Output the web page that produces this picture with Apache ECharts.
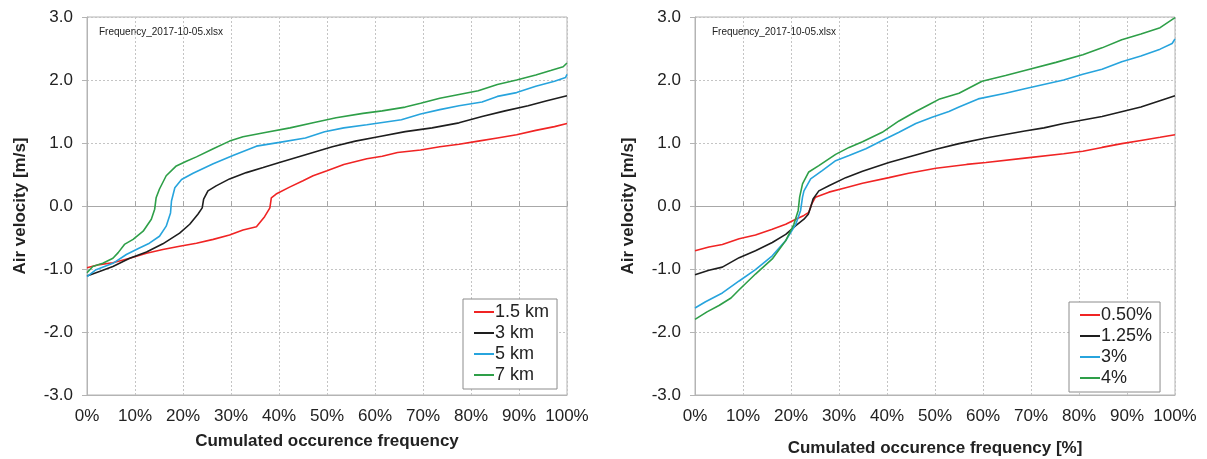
<!DOCTYPE html>
<html>
<head>
<meta charset="utf-8">
<script src="https://cdn.jsdelivr.net/npm/echarts@6/dist/echarts.min.js"></script>
<style>
  html, body { margin: 0; padding: 0; background: #fff; }
  #chart { width: 1207px; height: 459px; }
</style>
</head>
<body>
<div id="chart"></div>
<script>
// [cumulated frequency %, air velocity m/s]
const left15km = [[0,-0.98],[2.6,-0.93],[5.4,-0.90],[8.9,-0.83],[12.4,-0.75],[15.8,-0.69],[19.3,-0.64],[22.8,-0.59],[26.3,-0.53],[29.7,-0.46],[32.5,-0.38],[35.3,-0.33],[37,-0.17],[38.1,-0.03],[38.4,0.13],[39.4,0.19],[42.2,0.30],[45,0.40],[47.1,0.48],[50,0.56],[53.5,0.66],[58.3,0.75],[61.5,0.79],[64.7,0.85],[69.5,0.89],[73.5,0.94],[77.5,0.98],[81.5,1.03],[85.5,1.08],[89.5,1.13],[93.5,1.20],[97.4,1.26],[100,1.31]];
const left3km = [[0,-1.11],[2.6,-1.04],[5.4,-0.96],[8.9,-0.83],[12.4,-0.73],[15.8,-0.60],[19.3,-0.43],[21.4,-0.29],[23.1,-0.13],[24,-0.03],[24.3,0.11],[25.2,0.24],[26.9,0.32],[29.7,0.43],[33.2,0.53],[36.7,0.61],[40.1,0.69],[43.6,0.77],[47.1,0.85],[51.1,0.94],[55.9,1.03],[60.7,1.10],[66.3,1.18],[71.9,1.24],[77.5,1.32],[82.3,1.42],[87.1,1.51],[91.9,1.59],[95.8,1.67],[100,1.75]];
const left5km = [[0,-1.12],[1.9,-1.01],[5.4,-0.91],[8.2,-0.77],[10.6,-0.68],[13,-0.59],[15.1,-0.48],[16.5,-0.32],[17.4,-0.11],[17.6,0.08],[18.3,0.29],[19.7,0.42],[22.1,0.52],[26.3,0.67],[30.4,0.80],[35.3,0.95],[40.1,1.01],[45.5,1.08],[49.5,1.18],[53.5,1.24],[58.3,1.29],[65.5,1.37],[69.5,1.46],[73.5,1.53],[77.5,1.59],[82.3,1.65],[85.5,1.74],[89.5,1.80],[93.5,1.90],[97.4,1.98],[99.7,2.04],[100,2.09]];
const left7km = [[0,-1.06],[1.2,-0.96],[3.3,-0.91],[5.4,-0.83],[6.5,-0.74],[7.8,-0.61],[9.6,-0.53],[11.7,-0.40],[13.4,-0.21],[14.1,-0.05],[14.4,0.13],[15.1,0.27],[16.5,0.48],[18.5,0.63],[20.7,0.71],[22.8,0.78],[26.3,0.91],[29.7,1.03],[32.5,1.10],[37.4,1.17],[42.3,1.24],[47.1,1.32],[51.9,1.40],[57.5,1.47],[61.5,1.51],[66.3,1.57],[69.5,1.63],[73.5,1.71],[77.5,1.77],[81.5,1.83],[85.5,1.93],[89.5,2.00],[93.5,2.08],[96.6,2.15],[99.2,2.21],[100,2.27]];

const right050 = [[0,-0.71],[2.9,-0.65],[5.7,-0.61],[9.2,-0.52],[12.6,-0.46],[16.1,-0.37],[18.9,-0.29],[21,-0.21],[22.7,-0.15],[23.7,-0.10],[24.3,0.03],[25.1,0.14],[27.9,0.22],[31.4,0.29],[34.9,0.36],[40.4,0.45],[44.5,0.52],[50.2,0.60],[56.6,0.66],[60.6,0.69],[68.7,0.76],[76.8,0.83],[80.8,0.87],[84.8,0.93],[88.9,0.99],[92.9,1.04],[96.9,1.09],[100,1.13]];
const right125 = [[0,-1.09],[2.9,-1.02],[5.7,-0.97],[9.2,-0.82],[12.6,-0.71],[16.1,-0.58],[18.9,-0.45],[21,-0.31],[22.7,-0.21],[23.6,-0.13],[24.1,-0.02],[24.6,0.11],[25.8,0.24],[27.9,0.32],[31.4,0.45],[34.9,0.55],[40.4,0.69],[46,0.81],[50.2,0.90],[55,0.99],[60.6,1.08],[68.7,1.19],[72.7,1.24],[76.8,1.31],[84.8,1.42],[92.9,1.57],[100,1.75]];
const right3 = [[0,-1.62],[2.2,-1.52],[5.7,-1.38],[9.2,-1.19],[12.6,-1.01],[16.1,-0.79],[18.9,-0.55],[21,-0.29],[22,-0.07],[22.4,0.14],[22.7,0.24],[24.1,0.43],[26.5,0.56],[29.3,0.72],[32.1,0.80],[35.6,0.91],[39,1.04],[42.5,1.17],[46,1.31],[49.4,1.41],[52.9,1.50],[55,1.57],[59,1.70],[64.7,1.79],[68.7,1.86],[76.8,2.00],[80.8,2.09],[84.8,2.17],[88.9,2.29],[92.9,2.38],[96.9,2.49],[99.4,2.58],[100,2.65]];
const right4 = [[0,-1.80],[2.5,-1.68],[5,-1.58],[7.5,-1.46],[9.2,-1.33],[12.6,-1.08],[16.1,-0.84],[18.9,-0.55],[20.6,-0.29],[21.5,-0.07],[21.8,0.14],[22.4,0.35],[23.7,0.54],[25.8,0.64],[29.3,0.82],[32.1,0.93],[34.9,1.02],[39,1.17],[42.5,1.35],[46,1.50],[48.5,1.60],[51,1.70],[55,1.79],[59.8,1.98],[64.7,2.07],[68.7,2.15],[75.2,2.28],[80.8,2.40],[84.8,2.51],[88.9,2.64],[92.9,2.73],[96.9,2.83],[100,2.99]];

const leftNames = ['1.5 km', '3 km', '5 km', '7 km'];
const rightNames = ['0.50%', '1.25%', '3%', '4%'];
const colors = ['#f02424', '#1e1e1e', '#27a4dd', '#2e9f48'];
const fileLabel = 'Frequency_2017-10-05.xlsx';

const FONT = 'Liberation Sans, Arial, sans-serif';
const gridLine = { show: true, lineStyle: { color: '#c4c4c4', type: [2, 2], width: 1 } };

function labelAxis(grid, title, gap) {
  return {
    type: 'value', gridIndex: grid, min: 0, max: 100, interval: 10,
    name: title, nameLocation: 'middle', nameGap: gap,
    nameTextStyle: { fontFamily: FONT, fontSize: 17, fontWeight: 'bold', color: '#222' },
    axisLine: { onZero: false, lineStyle: { color: '#b4b4b4' } },
    axisTick: { show: false },
    axisLabel: { formatter: '{value}%', fontFamily: FONT, fontSize: 17, color: '#222', margin: 13 },
    splitLine: gridLine
  };
}
function zeroAxis(grid, yIndex) {
  return {
    type: 'value', gridIndex: grid, min: 0, max: 100, interval: 10,
    axisLine: { onZero: true, onZeroAxisIndex: yIndex, lineStyle: { color: '#a8a8a8' } },
    axisTick: { show: true, length: 5, lineStyle: { color: '#a8a8a8' } },
    axisLabel: { show: false }, splitLine: { show: false }
  };
}
function valueAxis(grid) {
  return {
    type: 'value', gridIndex: grid, min: -3, max: 3, interval: 1,
    name: 'Air velocity [m/s]', nameLocation: 'middle', nameGap: 58,
    nameTextStyle: { fontFamily: FONT, fontSize: 17, fontWeight: 'bold', color: '#222' },
    axisLine: { show: true, onZero: false, lineStyle: { color: '#b4b4b4' } },
    axisTick: { show: true, length: 5, lineStyle: { color: '#b4b4b4' } },
    axisLabel: { formatter: v => v.toFixed(1), fontFamily: FONT, fontSize: 17, color: '#222', margin: 14 },
    splitLine: gridLine
  };
}
function lineSeries(name, data, color, xi, yi) {
  return {
    name, type: 'line', data, xAxisIndex: xi, yAxisIndex: yi,
    symbol: 'none', animation: false,
    lineStyle: { color, width: 1.6 }, itemStyle: { color }
  };
}
function legendBox(names, left, top) {
  return {
    data: names, orient: 'vertical', left, top, width: 84,
    icon: 'rect', itemWidth: 20, itemHeight: 2, itemGap: 3,
    padding: [4, 8, 5, 11],
    backgroundColor: '#fff', borderColor: '#8c8c8c', borderWidth: 1,
    textStyle: { fontFamily: FONT, fontSize: 18, color: '#222', padding: [0, 0, 0, -4] }
  };
}

const leftData = [left15km, left3km, left5km, left7km];
const rightData = [right050, right125, right3, right4];

const option = {
  animation: false,
  grid: [
    { left: 87, top: 17, width: 480, height: 378, outerBoundsMode: 'none', show: true, borderColor: '#b4b4b4', borderWidth: 1 },
    { left: 695, top: 17, width: 480, height: 378, outerBoundsMode: 'none', show: true, borderColor: '#b4b4b4', borderWidth: 1 }
  ],
  xAxis: [
    labelAxis(0, 'Cumulated occurence frequency', 38),
    zeroAxis(0, 0),
    labelAxis(1, 'Cumulated occurence frequency [%]', 45),
    zeroAxis(1, 1)
  ],
  yAxis: [valueAxis(0), valueAxis(1)],
  legend: [legendBox(leftNames, 463, 299), legendBox(rightNames, 1069, 302)],
  graphic: [
    { type: 'text', left: 99, top: 27, style: { text: fileLabel, font: '10px ' + FONT, fill: '#222' } },
    { type: 'text', left: 712, top: 27, style: { text: fileLabel, font: '10px ' + FONT, fill: '#222' } }
  ],
  series: [
    ...leftNames.map((n, i) => lineSeries(n, leftData[i], colors[i], 0, 0)),
    ...rightNames.map((n, i) => lineSeries(n, rightData[i], colors[i], 2, 1))
  ]
};

var myChart = echarts.init(document.getElementById('chart'));
myChart.setOption(option);
</script>
</body>
</html>
